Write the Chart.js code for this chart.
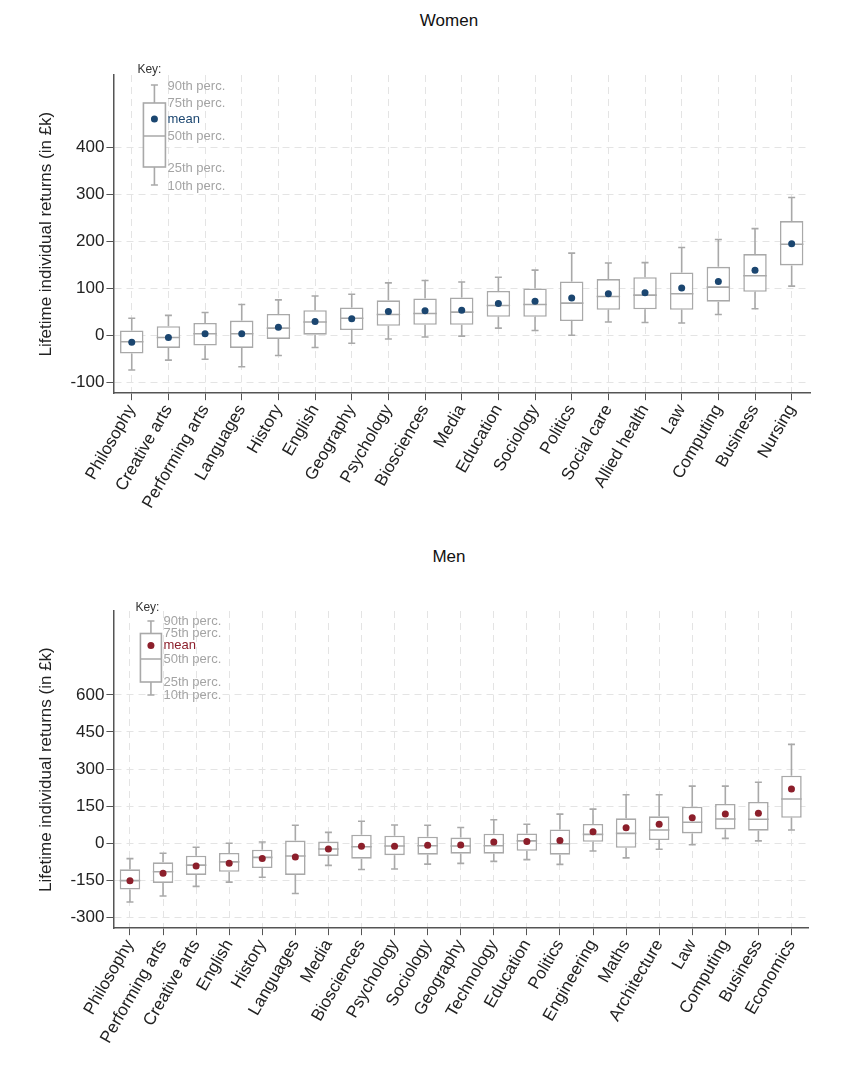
<!DOCTYPE html>
<html>
<head>
<meta charset="utf-8">
<script src="https://cdn.jsdelivr.net/npm/chart.js@4.4.1/dist/chart.umd.min.js"></script>
<style>
  body { margin: 0; background: #fff; }
  #wrap { position: relative; width: 848px; height: 1076px; font-family: "Liberation Sans", Arial, sans-serif; }
  .ttl { position: absolute; left: 50px; width: 798px; text-align: center; font-size: 17px; color: #111; }
  canvas { position: absolute; left: 0; }
</style>
</head>
<body>
<div id="wrap">
  <div class="ttl" style="top:11px">Women</div>
  <canvas id="women" width="848" height="520" style="top:0px"></canvas>
  <div class="ttl" style="top:547px">Men</div>
  <canvas id="men" width="848" height="540" style="top:536px"></canvas>
</div>
<script>
// women, by subject
var womenLabels = ['Philosophy', 'Creative arts', 'Performing arts', 'Languages', 'History', 'English', 'Geography', 'Psychology', 'Biosciences', 'Media', 'Education', 'Sociology', 'Politics', 'Social care', 'Allied health', 'Law', 'Computing', 'Business', 'Nursing'];
var womenP10 = [-73, -52, -50, -66, -42, -25, -16, -7, -3, -1, 16, 11, 1, 29, 28, 27, 45, 57, 105];
var womenP25 = [-38, -26, -21, -26, -7, 2, 12, 21, 23, 23, 40, 40, 31, 55, 56, 55, 72, 93, 149];
var womenMedian = [-13, -4, 4, 4, 16, 29, 37, 45, 47, 50, 64, 66, 69, 83, 86, 89, 103, 127, 194];
var womenP75 = [11, 20, 27, 32, 46, 54, 60, 75, 79, 81, 95, 100, 115, 120, 124, 134, 146, 173, 243];
var womenP90 = [37, 43, 49, 66, 76, 84, 88, 112, 117, 114, 124, 139, 175, 154, 155, 187, 204, 227, 293];
var womenMean = [-14, -4, 4, 4, 18, 30, 36, 51, 53, 54, 68, 73, 80, 89, 91, 101, 115, 139, 195];
var womenTicks = [-100, 0, 100, 200, 300, 400];

// men, by subject
var menLabels = ['Philosophy', 'Performing arts', 'Creative arts', 'English', 'History', 'Languages', 'Media', 'Biosciences', 'Psychology', 'Sociology', 'Geography', 'Technology', 'Education', 'Politics', 'Engineering', 'Maths', 'Architecture', 'Law', 'Computing', 'Business', 'Economics'];
var menP10 = [-237, -213, -174, -157, -137, -203, -89, -106, -104, -84, -81, -73, -66, -85, -31, -59, -24, -6, 20, 10, 54];
var menP25 = [-187, -160, -128, -115, -100, -128, -51, -62, -48, -46, -42, -42, -30, -46, 6, -18, 13, 40, 56, 51, 103];
var menMedian = [-151, -115, -88, -75, -57, -51, -23, -14, -11, -10, -11, -10, 10, -2, 36, 40, 54, 85, 98, 97, 179];
var menP75 = [-105, -77, -50, -39, -26, 11, 7, 35, 31, 27, 23, 39, 40, 56, 78, 101, 109, 148, 159, 167, 273];
var menP90 = [-62, -40, -16, 0, 5, 73, 44, 89, 74, 73, 64, 95, 77, 118, 138, 196, 196, 231, 231, 247, 400];
var menMean = [-151, -121, -92, -81, -61, -55, -23, -12, -12, -8, -7, 5, 7, 11, 47, 63, 77, 103, 118, 121, 220];
var menTicks = [-300, -150, 0, 150, 300, 450, 600];

var keyLabels = ['90th perc.', '75th perc.', 'mean', '50th perc.', '25th perc.', '10th perc.'];

var boxGrey = '#a9a9a9';
var gridGrey = '#e4e4e4';
var axisGrey = '#555';
var fontFam = '"Liberation Sans", Arial, sans-serif';

// whiskers and median line, drawn right after the boxes
var whiskers = {
	id: 'whiskers',
	afterDatasetDraw: function(chart, args) {
		var ds = chart.data.datasets[args.index];
		if (!ds.p10) return;
		var y = chart.scales.y;
		var ctx = chart.ctx;
		ctx.save();
		ctx.strokeStyle = boxGrey;
		ctx.lineWidth = 1.6;
		args.meta.data.forEach(function(bar, i) {
			var x = bar.x, hw = bar.width / 2, cap = 3.5;
			var y10 = y.getPixelForValue(ds.p10[i]), y25 = y.getPixelForValue(ds.data[i][0]);
			var y75 = y.getPixelForValue(ds.data[i][1]), y90 = y.getPixelForValue(ds.p90[i]);
			var y50 = y.getPixelForValue(ds.p50[i]);
			ctx.beginPath();
			ctx.moveTo(x, y75); ctx.lineTo(x, y90);
			ctx.moveTo(x - cap, y90); ctx.lineTo(x + cap, y90);
			ctx.moveTo(x, y25); ctx.lineTo(x, y10);
			ctx.moveTo(x - cap, y10); ctx.lineTo(x + cap, y10);
			ctx.moveTo(x - hw, y50); ctx.lineTo(x + hw, y50);
			ctx.stroke();
		});
		ctx.restore();
	}
};

// the little "Key:" box in the top left corner
var keyBox = {
	id: 'keyBox',
	afterDraw: function(chart, args, o) {
		var a = chart.chartArea, ctx = chart.ctx;
		var l = a.left + o.left, r = a.left + o.right, cx = (l + r) / 2;
		var ys = o.ys.map(function(v) { return a.top + v; });
		ctx.save();
		ctx.strokeStyle = boxGrey;
		ctx.lineWidth = 1.6;
		ctx.fillStyle = '#fff';
		ctx.fillRect(l, ys[1], r - l, ys[4] - ys[1]);
		ctx.strokeRect(l, ys[1], r - l, ys[4] - ys[1]);
		ctx.beginPath();
		ctx.moveTo(cx, ys[1]); ctx.lineTo(cx, ys[0]);
		ctx.moveTo(cx - 3.5, ys[0]); ctx.lineTo(cx + 3.5, ys[0]);
		ctx.moveTo(cx, ys[4]); ctx.lineTo(cx, ys[5]);
		ctx.moveTo(cx - 3.5, ys[5]); ctx.lineTo(cx + 3.5, ys[5]);
		ctx.moveTo(l, ys[3]); ctx.lineTo(r, ys[3]);
		ctx.stroke();
		ctx.fillStyle = o.color;
		ctx.beginPath();
		ctx.arc(cx, ys[2], 3.5, 0, Math.PI * 2);
		ctx.fill();
		ctx.font = '13px ' + fontFam;
		ctx.textBaseline = 'middle';
		ctx.textAlign = 'left';
		keyLabels.forEach(function(t, i) {
			ctx.fillStyle = i === 2 ? o.color : '#a4a4a4';
			ctx.fillText(t, r + 2, a.top + o.textYs[i]);
		});
		ctx.fillStyle = '#333';
		ctx.font = '12px ' + fontFam;
		ctx.fillText('Key:', a.left + o.keyX, a.top + o.keyY);
		ctx.restore();
	}
};

function makeChart(id, labels, p10, p25, p50, p75, p90, mean, ticks, yMin, yMax, dotColor, barPct, pad, key)
{
	var boxes = p25.map(function(v, i) { return [v, p75[i]]; });
	return new Chart(document.getElementById(id), {
		type: 'bar',
		data: {
			labels: labels,
			datasets: [{
				label: 'box',
				data: boxes,
				p10: p10,
				p50: p50,
				p90: p90,
				backgroundColor: '#fff',
				borderColor: boxGrey,
				borderWidth: 1.6,
				borderSkipped: false,
				barPercentage: barPct,
				categoryPercentage: 1,
				order: 2
			}, {
				type: 'line',
				label: 'mean',
				data: mean,
				showLine: false,
				pointRadius: 3.5,
				pointBorderWidth: 0,
				pointBackgroundColor: dotColor,
				order: 1
			}]
		},
		options: {
			responsive: false,
			animation: false,
			devicePixelRatio: 1,
			layout: { padding: pad },
			plugins: {
				legend: { display: false },
				tooltip: { enabled: false },
				keyBox: key
			},
			scales: {
				x: {
					grid: { color: gridGrey, offset: false, tickColor: axisGrey, tickLength: 7, tickBorderDash: [] },
					border: { color: axisGrey, width: 1.5, dash: [7, 5] },
					ticks: { color: '#222', font: { size: 17, family: fontFam }, minRotation: 60, maxRotation: 60, autoSkip: false, padding: 1 }
				},
				y: {
					min: yMin,
					max: yMax,
					afterBuildTicks: function(s) { s.ticks = ticks.map(function(v) { return { value: v }; }); },
					grid: { color: gridGrey, tickColor: axisGrey, tickLength: 7, tickBorderDash: [] },
					border: { color: axisGrey, width: 1.5, dash: [7, 5] },
					ticks: { color: '#222', font: { size: 17, family: fontFam }, padding: 2 },
					title: { display: true, text: 'Lifetime individual returns (in £k)', color: '#222', font: { size: 17, family: fontFam }, padding: { top: 0, bottom: 12 } }
				}
			}
		},
		plugins: [whiskers, keyBox]
	});
}

makeChart('women', womenLabels, womenP10, womenP25, womenMedian, womenP75, womenP90, womenMean, womenTicks, -122, 553, '#1b4670', 0.64,
	{ top: 75, left: 36, right: 38, bottom: 7 },
	{ left: 30, right: 52, ys: [10, 28, 44, 61, 92, 110], textYs: [11, 28, 44, 61, 93, 111], color: '#1b4670', keyX: 24, keyY: -5 });

makeChart('men', menLabels, menP10, menP25, menMedian, menP75, menP90, menMean, menTicks, -343, 939, '#8c1f2b', 0.62,
	{ top: 75, left: 36, right: 40, bottom: 28 },
	{ left: 27, right: 48, ys: [10, 22.5, 34.5, 48, 71, 84], textYs: [10.5, 22.5, 34.5, 48, 71, 84], color: '#8c1f2b', keyX: 22, keyY: -3 });
</script>
</body>
</html>
